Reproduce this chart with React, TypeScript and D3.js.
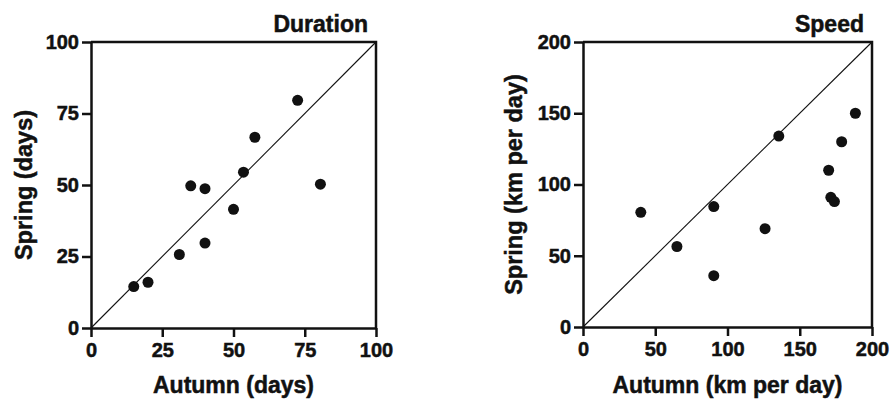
import { useRef, useEffect } from "react";
import * as d3 from "d3";

// Duration panel (days)
const durationAutumn = [15, 20, 31, 35, 40, 40, 50, 53.5, 57.5, 72.5, 80.5];
const durationSpring = [14.5, 16, 25.7, 49.7, 48.7, 29.7, 41.5, 54.5, 66.7, 79.6, 50.3];
const durationTicks = [0, 25, 50, 75, 100];

// Speed panel (km per day)
const speedAutumn = [40, 65, 90.5, 90.5, 126, 135.5, 170, 171.5, 174, 179, 188.5];
const speedSpring = [80.5, 56.5, 84.5, 36, 69, 134, 110, 91, 88, 130, 150];
const speedTicks = [0, 50, 100, 150, 200];

const W = 890;
const H = 399;
const FONT = "'Liberation Sans', Arial, Helvetica, sans-serif";
const INK = "#111";

export default function App() {
  const svgRef = useRef<SVGSVGElement>(null);

  useEffect(() => {
    if (!svgRef.current) return;
    const svg = d3.select(svgRef.current);
    svg.selectAll("*").remove();

    const panels = [
      {
        x0: 91, x1: 376, y0: 42, y1: 328, max: 100,
        xs: durationAutumn, ys: durationSpring, ticks: durationTicks,
        title: "Duration", xTitle: "Autumn (days)", yTitle: "Spring (days)", yTitleX: 32,
      },
      {
        x0: 583, x1: 872, y0: 42, y1: 327, max: 200,
        xs: speedAutumn, ys: speedSpring, ticks: speedTicks,
        title: "Speed", xTitle: "Autumn (km per day)", yTitle: "Spring (km per day)", yTitleX: 522,
      },
    ];

    // bold text helper, a faint stroke gives the heavy scanned look
    const style = (t: d3.Selection<any, any, any, any>, size: number) =>
      t.attr("font-family", FONT).attr("font-size", `${size}px`).attr("font-weight", "bold")
        .attr("fill", INK).attr("stroke", INK).attr("stroke-width", 0.5);

    panels.forEach(p => {
      const x = d3.scaleLinear().domain([0, p.max]).range([p.x0, p.x1]);
      const y = d3.scaleLinear().domain([0, p.max]).range([p.y1, p.y0]);
      const g = svg.append("g");

      // 1:1 line
      g.append("line")
        .attr("x1", x(0)).attr("y1", y(0)).attr("x2", x(p.max)).attr("y2", y(p.max))
        .attr("stroke", INK).attr("stroke-width", 1.1);

      // frame (top + right)
      g.append("path")
        .attr("d", `M${x(0)},${y(p.max)}H${x(p.max)}V${y(0)}`)
        .attr("fill", "none").attr("stroke", INK).attr("stroke-width", 2.5);

      // axes
      const xAxis = g.append("g").attr("transform", `translate(0,${y(0)})`)
        .call(d3.axisBottom(x).tickValues(p.ticks).tickSize(9).tickSizeOuter(0).tickPadding(6));
      const yAxis = g.append("g").attr("transform", `translate(${x(0)},0)`)
        .call(d3.axisLeft(y).tickValues(p.ticks).tickSize(9).tickSizeOuter(0).tickPadding(3));
      [xAxis, yAxis].forEach(a => {
        a.select(".domain").attr("stroke", INK).attr("stroke-width", 2.5);
        a.selectAll("line").attr("stroke", INK).attr("stroke-width", 2.5);
        style(a.selectAll("text"), 20);
      });

      // points
      g.selectAll("circle").data(p.xs).join("circle")
        .attr("cx", d => x(d)).attr("cy", (_, i) => y(p.ys[i])).attr("r", 5.5)
        .attr("fill", INK);

      // titles
      style(g.append("text").attr("x", p.x1 - 8).attr("y", 32).attr("text-anchor", "end"), 23)
        .text(p.title);
      style(g.append("text").attr("x", (p.x0 + p.x1) / 2).attr("y", 393).attr("text-anchor", "middle"), 23)
        .text(p.xTitle);
      style(g.append("text")
        .attr("transform", `translate(${p.yTitleX},${(p.y0 + p.y1) / 2}) rotate(-90)`)
        .attr("text-anchor", "middle"), 23.5)
        .text(p.yTitle);
    });
  }, []);

  return (
    <svg ref={svgRef} width={W} height={H}
      style={{ position: "absolute", left: 0, top: 0, background: "#fff" }} />
  );
}
